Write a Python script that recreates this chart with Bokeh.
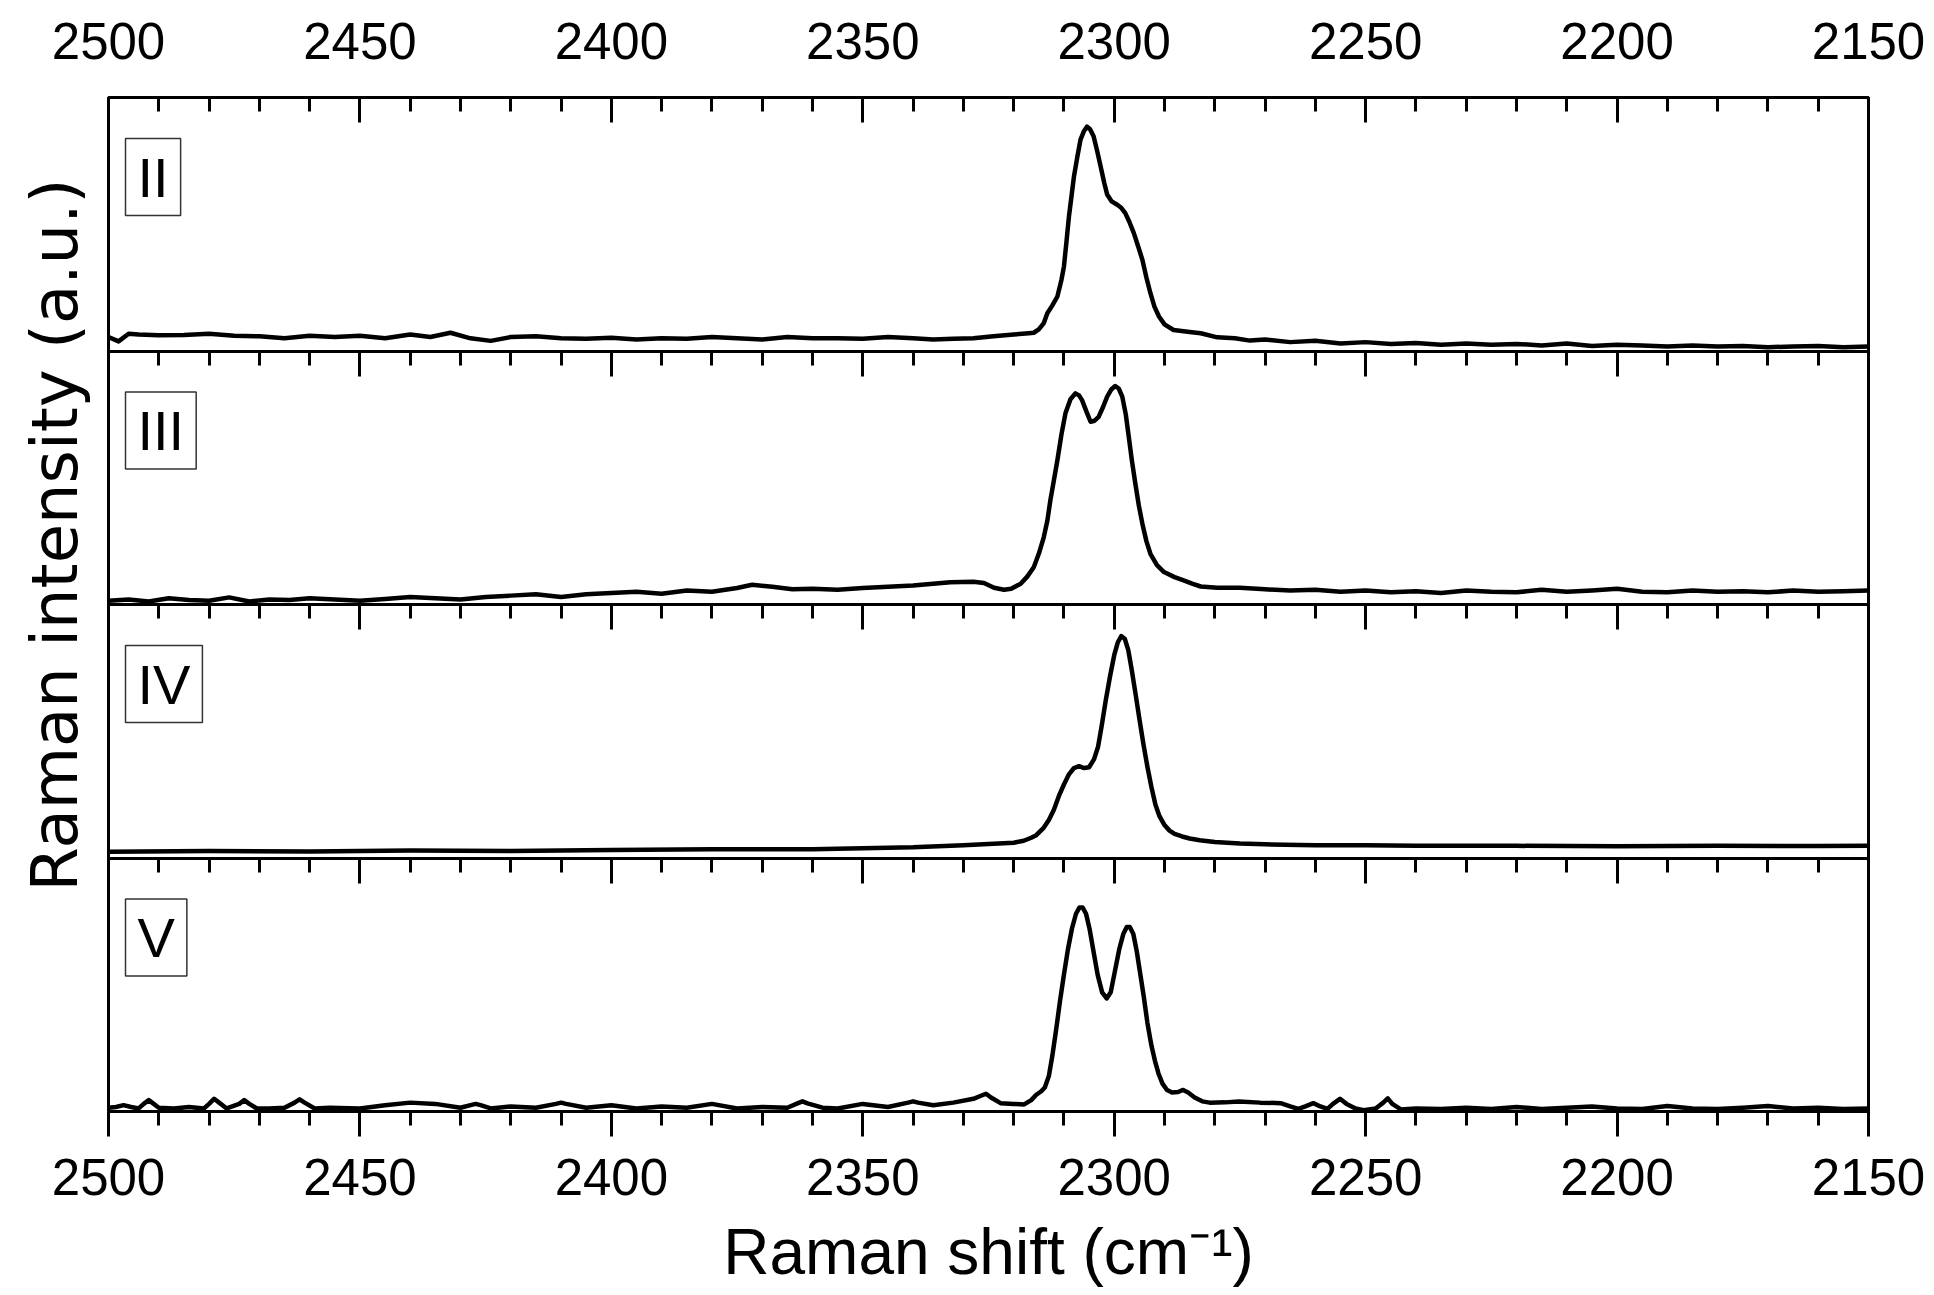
from bokeh.plotting import figure
from bokeh.models import Range1d, LinearAxis, FixedTicker, Label, CustomJSTickFormatter, ColumnDataSource, Title
from bokeh.embed import file_html
from bokeh.resources import INLINE

FONT = "Liberation Sans"

panel_names = ["II", "III", "IV", "V"]

shift_II = [2500, 2498, 2496, 2494, 2490, 2485, 2480, 2475, 2470, 2465, 2460, 2455, 2450, 2445, 2440,
            2436, 2432, 2428, 2424, 2420, 2415, 2410, 2405, 2400, 2395, 2390, 2385, 2380, 2375, 2370,
            2365, 2360, 2355, 2350, 2345, 2340, 2336, 2332, 2328, 2324, 2320, 2317, 2316, 2315, 2314,
            2313.3, 2312.3, 2311.3, 2310.5, 2310, 2309.5, 2309, 2308.5, 2308, 2307.3, 2306.7, 2306,
            2305.4, 2304.8, 2304.1, 2303.4, 2302.7, 2302, 2301.4, 2300.5, 2299.4, 2298.6, 2297.8, 2297,
            2296.1, 2295.2, 2294.4, 2293.6, 2292.8, 2292, 2291.1, 2290, 2288.2, 2285, 2282.8, 2279.5,
            2276, 2273, 2270, 2265, 2260, 2255, 2250, 2245, 2240, 2235, 2230, 2225, 2220, 2215, 2210,
            2205, 2200, 2195, 2190, 2185, 2180, 2175, 2170, 2165, 2160, 2155, 2150]
int_II = [0.055, 0.038, 0.068, 0.065, 0.062, 0.063, 0.068, 0.06, 0.058, 0.05, 0.06, 0.055, 0.06, 0.05, 0.065,
          0.055, 0.072, 0.05, 0.04, 0.055, 0.058, 0.05, 0.048, 0.052, 0.045, 0.05, 0.048, 0.055, 0.05, 0.045,
          0.055, 0.05, 0.05, 0.048, 0.055, 0.05, 0.045, 0.048, 0.05, 0.058, 0.065, 0.07, 0.072, 0.085, 0.11,
          0.149, 0.18, 0.215, 0.28, 0.333, 0.43, 0.531, 0.61, 0.689, 0.77, 0.834, 0.868,
          0.885, 0.875, 0.847, 0.79, 0.728, 0.665, 0.617, 0.59, 0.577, 0.565, 0.544, 0.51,
          0.465, 0.41, 0.36, 0.29, 0.228, 0.175, 0.136, 0.105, 0.083, 0.075, 0.07, 0.054,
          0.05, 0.041, 0.045, 0.035, 0.04, 0.03, 0.035, 0.028, 0.032, 0.025, 0.03, 0.025, 0.028, 0.022, 0.03,
          0.02, 0.025, 0.022, 0.018, 0.022, 0.018, 0.02, 0.015, 0.018, 0.02, 0.015, 0.018]

shift_III = [2500, 2496, 2492, 2488, 2484, 2480, 2476, 2472, 2468, 2464, 2460, 2455, 2450, 2445, 2440,
             2435, 2430, 2425, 2420, 2415, 2410, 2405, 2400, 2395, 2390, 2385, 2380, 2375, 2372, 2368,
             2364, 2360, 2355, 2350, 2345, 2340, 2336, 2332.6, 2328, 2325.9, 2323.9, 2321.9, 2320.5,
             2318.6, 2317.3, 2316, 2315, 2314, 2313.3, 2312.7, 2312, 2311.3, 2310.5, 2309.7, 2308.7,
             2307.7, 2307, 2306.4, 2305.5, 2304.7, 2303.9, 2303.1, 2302.2, 2301.4, 2300.6, 2299.8,
             2299.1, 2298.4, 2297.7, 2297.1, 2296.5, 2295.8, 2295.1, 2294.4, 2293.6, 2292.8, 2291.5,
             2290.1, 2288, 2286.2, 2284.5, 2282.8, 2279.5, 2275, 2270, 2265, 2260, 2255, 2250,
             2245, 2240, 2235, 2230, 2225, 2220, 2215, 2210, 2205, 2200, 2195, 2190, 2185, 2180, 2175,
             2170, 2165, 2160, 2155, 2150]
int_III = [0.015, 0.02, 0.012, 0.025, 0.018, 0.015, 0.028, 0.012, 0.02, 0.018, 0.025, 0.02, 0.015, 0.022, 0.03,
           0.025, 0.02, 0.03, 0.035, 0.04, 0.03, 0.04, 0.045, 0.05, 0.042, 0.055, 0.05, 0.065, 0.078, 0.07,
           0.06, 0.062, 0.058, 0.065, 0.07, 0.075, 0.082, 0.088, 0.09, 0.085, 0.066, 0.058, 0.062,
           0.082, 0.11, 0.147, 0.2, 0.266, 0.33, 0.411, 0.49, 0.569, 0.67, 0.754, 0.81,
           0.833, 0.825, 0.806, 0.76, 0.721, 0.725, 0.74, 0.78, 0.82, 0.848, 0.862,
           0.852, 0.82, 0.75, 0.661, 0.57, 0.477, 0.39, 0.319, 0.25, 0.2, 0.155,
           0.128, 0.108, 0.095, 0.082, 0.071, 0.066, 0.066, 0.06, 0.055, 0.058, 0.05, 0.055,
           0.048, 0.052, 0.045, 0.055, 0.05, 0.048, 0.058, 0.05, 0.055, 0.062, 0.05, 0.048, 0.055, 0.05, 0.052,
           0.048, 0.055, 0.05, 0.052, 0.055]

shift_IV = [2500, 2480, 2460, 2440, 2420, 2400, 2380, 2360, 2340, 2330, 2325, 2320, 2318, 2316.5, 2315.5,
            2314, 2313, 2312, 2311, 2310, 2309, 2308, 2307, 2306, 2305, 2304, 2303.2, 2302.5, 2301.7,
            2300.8, 2300, 2299.3, 2298.6, 2297.9, 2297.2, 2296.5, 2295.7, 2295, 2294.2, 2293.4, 2292.6,
            2291.8, 2291, 2290, 2289, 2288, 2286.5, 2285, 2283, 2280, 2275, 2270, 2260, 2250, 2240,
            2220, 2200, 2180, 2160, 2150]
int_IV = [0.025, 0.028, 0.026, 0.03, 0.028, 0.032, 0.035, 0.035, 0.042, 0.05, 0.055, 0.06, 0.068, 0.08, 0.09,
          0.12, 0.15, 0.19, 0.245, 0.29, 0.33, 0.355, 0.362, 0.355, 0.358, 0.39, 0.44, 0.52, 0.62,
          0.72, 0.8, 0.85, 0.875, 0.865, 0.82, 0.74, 0.64, 0.55, 0.45, 0.36, 0.28,
          0.21, 0.165, 0.13, 0.108, 0.095, 0.085, 0.077, 0.07, 0.063, 0.057, 0.054, 0.05, 0.05, 0.048,
          0.048, 0.046, 0.048, 0.047, 0.048]

shift_V = [2500, 2498.5, 2497, 2495.5, 2494, 2493, 2492, 2491, 2490, 2487, 2484, 2481, 2480, 2479, 2478,
           2476.5, 2474, 2473, 2472, 2470.5, 2468, 2465, 2463, 2462, 2461, 2459, 2456, 2450, 2445, 2440,
           2435, 2430, 2428, 2427, 2426, 2424, 2420, 2415, 2411, 2410, 2409, 2405, 2400, 2395, 2390,
           2385, 2380, 2375, 2370, 2365, 2363, 2362, 2361, 2358, 2355, 2350, 2345, 2341, 2340, 2339,
           2336, 2332, 2328, 2326.5, 2325.5, 2324.5, 2322.6, 2320, 2317.9, 2316.5, 2315.5, 2314.5,
           2313.8, 2313, 2312.3, 2311.5, 2310.8, 2310, 2309.2, 2308.4, 2307.6, 2306.9, 2306.3, 2305.6,
           2304.9, 2304.1, 2303.3, 2302.4, 2301.5, 2300.7, 2299.9, 2299, 2298.2, 2297.5, 2296.9, 2296.2,
           2295.5, 2294.8, 2294.1, 2293.4, 2292.6, 2291.9, 2291.2, 2290.4, 2289.5, 2288.5, 2287.3,
           2286.3, 2285.3, 2284, 2282.5, 2281, 2278, 2275.2, 2271, 2266.9, 2265, 2263.4, 2262, 2260.4,
           2259, 2257.6, 2256.5, 2255.1, 2253.8, 2252, 2250.4, 2248, 2246.5, 2245.6, 2244.7, 2243, 2240,
           2235, 2230, 2225, 2220, 2215, 2210, 2205, 2200, 2195, 2190, 2185, 2180, 2175, 2170, 2165,
           2160, 2155, 2150]
int_V = [0.015, 0.018, 0.025, 0.018, 0.012, 0.03, 0.045, 0.03, 0.015, 0.012, 0.018, 0.012, 0.03, 0.05, 0.035,
         0.012, 0.03, 0.045, 0.03, 0.012, 0.012, 0.015, 0.035, 0.048, 0.035, 0.012, 0.015, 0.012, 0.025, 0.035,
         0.03, 0.015, 0.025, 0.03, 0.025, 0.012, 0.02, 0.015, 0.03, 0.035, 0.03, 0.015, 0.025, 0.012, 0.02,
         0.015, 0.03, 0.012, 0.018, 0.015, 0.032, 0.04, 0.032, 0.015, 0.012, 0.03, 0.018, 0.035, 0.04, 0.035,
         0.025, 0.035, 0.05, 0.062, 0.07, 0.055, 0.033, 0.03, 0.028, 0.045, 0.066, 0.08,
         0.095, 0.14, 0.22, 0.33, 0.433, 0.54, 0.64, 0.722, 0.78, 0.805, 0.805, 0.78,
         0.72, 0.63, 0.54, 0.47, 0.446, 0.47, 0.55, 0.64, 0.7, 0.728, 0.728, 0.7,
         0.63, 0.54, 0.45, 0.35, 0.26, 0.2, 0.15, 0.11, 0.085, 0.075, 0.077,
         0.085, 0.075, 0.055, 0.04, 0.035, 0.036, 0.039, 0.035, 0.033, 0.02, 0.01, 0.02, 0.033,
         0.02, 0.01, 0.03, 0.05, 0.03, 0.012, 0.005, 0.012, 0.035, 0.052, 0.03, 0.008, 0.012,
         0.01, 0.015, 0.01, 0.018, 0.01, 0.015, 0.02, 0.012, 0.01, 0.022, 0.012, 0.01, 0.015, 0.022, 0.012,
         0.015, 0.01, 0.012]

major_ticks = [2500, 2450, 2400, 2350, 2300, 2250, 2200, 2150]
minor_ticks = [2490, 2480, 2470, 2460, 2440, 2430, 2420, 2410, 2390, 2380, 2370, 2360,
               2340, 2330, 2320, 2310, 2290, 2280, 2270, 2260, 2240, 2230, 2220, 2210,
               2190, 2180, 2170, 2160]

series = [(shift_II, int_II), (shift_III, int_III), (shift_IV, int_IV), (shift_V, int_V)]
for sx, sy in series:
    assert len(sx) == len(sy), (len(sx), len(sy))

n = len(panel_names)
W, H = 1934, 1295
BL, BT, FW, FH = 108, 97, 1760, 1014
p = figure(width=W, height=H, x_range=Range1d(2500, 2150), y_range=Range1d(0, n),
           output_backend="svg", toolbar_location=None,
           x_axis_location=None, y_axis_location=None,
           min_border_left=BL, min_border_right=W - BL - FW, min_border_top=BT,
           min_border_bottom=H - BT - FH)
p.grid.visible = False
p.outline_line_color = "black"
p.outline_line_width = 3
p.background_fill_color = "white"
p.border_fill_color = "white"

ticker = FixedTicker(ticks=major_ticks, minor_ticks=minor_ticks)


def style_axis(ax, out):
    ax.axis_line_color = "black"
    ax.axis_line_width = 3
    ax.major_tick_line_width = 3
    ax.minor_tick_line_width = 3
    ax.major_tick_line_color = "black"
    ax.minor_tick_line_color = "black"
    if out:
        ax.major_tick_out, ax.major_tick_in = 25, 0
        ax.minor_tick_out, ax.minor_tick_in = 14, 0
    else:
        ax.major_tick_out, ax.major_tick_in = 0, 25
        ax.minor_tick_out, ax.minor_tick_in = 0, 14
    ax.major_label_text_font = FONT
    ax.major_label_text_font_size = "51px"
    ax.major_label_text_color = "black"


bottom = LinearAxis(ticker=ticker, axis_label="Raman shift (cm\u207b\u00b9)")
style_axis(bottom, True)
bottom.major_label_standoff = 22
bottom.axis_label_text_font = FONT
bottom.axis_label_text_font_size = "64px"
bottom.axis_label_text_font_style = "normal"
bottom.axis_label_text_color = "black"
bottom.axis_label_standoff = 18
p.add_layout(bottom, "below")

top = LinearAxis(ticker=ticker)
style_axis(top, False)
top.major_label_standoff = 39
p.add_layout(top, "above")

for k in range(1, n):
    sep = LinearAxis(ticker=ticker, fixed_location=k, formatter=CustomJSTickFormatter(code="return ''"))
    style_axis(sep, True)
    p.add_layout(sep, "below")

# vertical axis title on the left side
p.add_layout(Title(text="Raman intensity (a.u.)", align="left", vertical_align="top",
                   offset=220, standoff=29,
                   text_font="DejaVu Sans", text_font_size="64px", text_font_style="normal",
                   text_color="black"), "left")

for i, (name, (sx, sy)) in enumerate(zip(panel_names, series)):
    offset = n - 1 - i
    src = ColumnDataSource(dict(x=sx, y=[v + offset for v in sy]))
    p.line("x", "y", source=src, line_color="black", line_width=4.5, line_join="round")
    p.add_layout(Label(x=2500, y=offset + 1, x_offset=17, y_offset=-41, anchor="top_left",
                       text=name, text_font=FONT, text_font_size="56px", text_color="black",
                       border_line_color="#333333", border_line_width=1.5,
                       background_fill_color="white", padding=(12, 12, 7, 7)))

open("out.html", "w").write(file_html(p, INLINE))
